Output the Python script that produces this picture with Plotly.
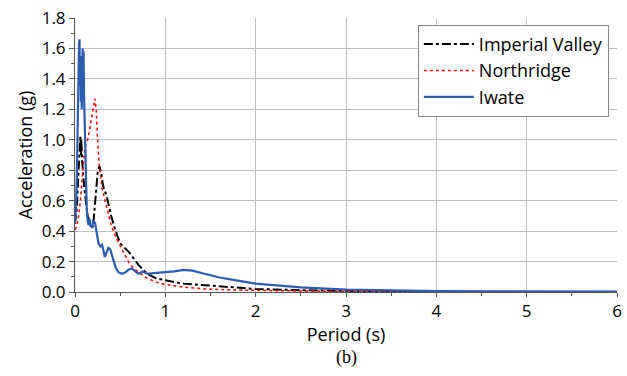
import plotly.graph_objects as go

iwate_t = [0, 0.01, 0.02, 0.03, 0.035, 0.04, 0.045, 0.05, 0.055, 0.06, 0.065, 0.07, 0.075, 0.08, 0.085, 0.09, 0.095,
           0.10, 0.11, 0.12, 0.13, 0.14, 0.15, 0.16, 0.17, 0.18, 0.19, 0.20, 0.21, 0.22, 0.24, 0.26, 0.28, 0.30,
           0.32, 0.33, 0.35, 0.37, 0.39, 0.42, 0.45, 0.48, 0.52, 0.56, 0.60, 0.63, 0.66, 0.70, 0.75, 0.80, 0.90,
           1.0, 1.1, 1.2, 1.3, 1.4, 1.5, 1.6, 1.8, 2.0, 2.2, 2.5, 3.0, 3.5, 4.0, 4.6, 6.0]
iwate_a = [0.45, 0.55, 0.75, 1.0, 1.25, 1.45, 1.63, 1.66, 1.35, 1.55, 1.25, 1.45, 1.2, 1.35, 1.6, 1.5, 1.58,
           1.3, 1.0, 0.75, 0.55, 0.47, 0.44, 0.48, 0.43, 0.44, 0.42, 0.47, 0.45, 0.46, 0.38, 0.32, 0.30, 0.31,
           0.26, 0.23, 0.26, 0.29, 0.28, 0.22, 0.16, 0.13, 0.12, 0.13, 0.15, 0.155, 0.14, 0.12, 0.135, 0.12, 0.125,
           0.13, 0.135, 0.145, 0.14, 0.125, 0.11, 0.095, 0.075, 0.055, 0.045, 0.03, 0.015, 0.01, 0.006, 0.004, 0.002]

imperial_t = [0, 0.02, 0.04, 0.05, 0.06, 0.065, 0.07, 0.08, 0.09, 0.10, 0.12, 0.14, 0.16, 0.18, 0.20, 0.21,
              0.23, 0.25, 0.27, 0.29, 0.31, 0.33, 0.35, 0.40, 0.45, 0.50, 0.55, 0.60, 0.65, 0.70, 0.75, 0.80,
              0.90, 1.0, 1.1, 1.2, 1.4, 1.6, 1.8, 2.0, 2.5, 3.0, 3.5, 4.0]
imperial_a = [0.45, 0.55, 0.8, 0.95, 1.03, 0.9, 1.0, 0.85, 0.75, 0.7, 0.6, 0.5, 0.47, 0.44, 0.43, 0.5,
              0.65, 0.78, 0.83, 0.78, 0.7, 0.66, 0.63, 0.5, 0.4, 0.32, 0.29, 0.26, 0.22, 0.18, 0.15, 0.12,
              0.09, 0.075, 0.065, 0.055, 0.045, 0.035, 0.028, 0.02, 0.012, 0.007, 0.004, 0.003]

northridge_t = [0, 0.02, 0.04, 0.06, 0.08, 0.10, 0.12, 0.14, 0.16, 0.18, 0.20, 0.22, 0.235, 0.25, 0.27,
                0.30, 0.35, 0.40, 0.45, 0.50, 0.55, 0.60, 0.65, 0.70, 0.75, 0.80, 0.90, 1.0, 1.1, 1.2, 1.4,
                1.6, 2.0, 2.5, 3.0, 3.5, 4.0]
northridge_a = [0.41, 0.43, 0.5, 0.6, 0.75, 0.9, 0.97, 1.0, 1.06, 1.12, 1.2, 1.27, 1.2, 1.0, 0.82,
                0.68, 0.56, 0.44, 0.36, 0.30, 0.24, 0.19, 0.155, 0.13, 0.11, 0.09, 0.065, 0.05, 0.04, 0.032, 0.022,
                0.016, 0.01, 0.006, 0.004, 0.003, 0.002]

fig = go.Figure()
fig.add_trace(go.Scatter(x=imperial_t, y=imperial_a, mode="lines", name="Imperial Valley",
                         line=dict(color="black", width=2, dash="dashdot")))
fig.add_trace(go.Scatter(x=northridge_t, y=northridge_a, mode="lines", name="Northridge",
                         line=dict(color="#FF0000", width=1.5, dash="dot")))
fig.add_trace(go.Scatter(x=iwate_t, y=iwate_a, mode="lines", name="Iwate",
                         line=dict(color="#2A5CB0", width=2.2)))

FONT = "Open Sans, sans-serif"
axis_font = dict(family=FONT, size=17, color="black")
fig.update_layout(
    width=627, height=376,
    margin=dict(l=75, r=10, t=18, b=84),
    paper_bgcolor="white", plot_bgcolor="white",
    font=axis_font,
    xaxis=dict(range=[0, 6], dtick=1, tickformat="d", showgrid=True, gridcolor="#BFBFBF", gridwidth=1,
               showline=True, linecolor="#555555", linewidth=1, ticks="outside", ticklen=4, tickcolor="#555555",
               minor=dict(dtick=0.5, ticks="outside", ticklen=3, tickcolor="#555555", showgrid=False),
               zeroline=False, tickfont=axis_font, automargin=False,
               title=dict(text="Period (s)", font=dict(family=FONT, size=18), standoff=0)),
    yaxis=dict(range=[0, 1.8], dtick=0.2, tickformat=".1f", showgrid=True, gridcolor="#BFBFBF", gridwidth=1,
               showline=True, linecolor="#555555", linewidth=1, ticks="outside", ticklen=5, tickcolor="#555555",
               minor=dict(dtick=0.1, ticks="outside", ticklen=3, tickcolor="#555555", showgrid=False),
               zeroline=False, tickfont=axis_font, automargin=False,
               title=dict(text="Acceleration (g)", font=dict(family=FONT, size=18), standoff=4)),
    legend=dict(x=0.985, xanchor="right", y=0.975, yanchor="top", bgcolor="white",
                bordercolor="#888888", borderwidth=1, font=dict(family=FONT, size=18),
                tracegroupgap=0, itemwidth=50),
    showlegend=True,
)
fig.add_annotation(text="(b)", xref="paper", yref="paper", x=0.5, y=-0.24, showarrow=False,
                   xanchor="center", yanchor="middle",
                   font=dict(family="Liberation Serif, serif", size=18, color="black"))
fig.write_html("out.html", config={"displayModeBar": False},
               post_script="document.body.style.margin='0';")
